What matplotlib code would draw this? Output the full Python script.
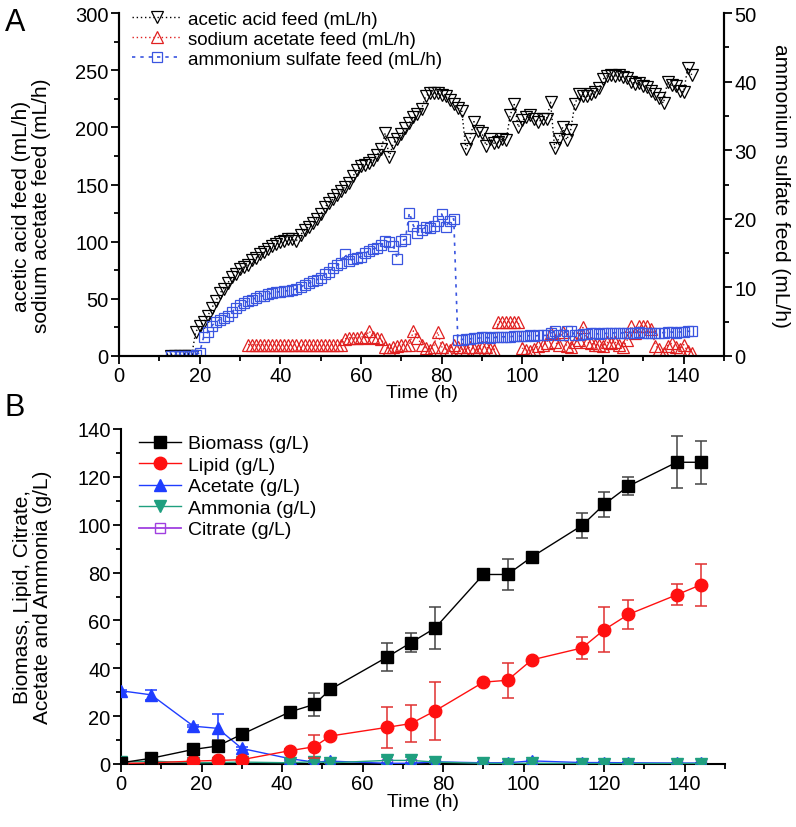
import numpy as np
import matplotlib
matplotlib.use("Agg")
from matplotlib import pyplot as plt
from matplotlib.ticker import MultipleLocator

plt.rcParams['font.family'] = ['Liberation Sans', 'DejaVu Sans']
plt.rcParams['font.size'] = 14

# ---------- panel A : feeds (one reading per hour) ----------
t_acetic = np.arange(13, 143)
acetic = [0, 0, 0, 0, 0, 0,
          21, 26, 30, 35, 42, 48, 55, 59, 64, 69, 72, 76,
          78, 80, 84, 86, 89, 91, 94, 96, 98, 100, 101, 102,
          102, 101, 106, 110, 113, 116, 120, 124, 130, 134, 137, 141,
          144, 148, 151, 157, 163, 166, 167, 169, 171, 176, 181, 195,
          174, 186, 190, 194, 199, 204, 209, 212, 216, 227, 230, 230,
          230, 228, 227, 224, 220, 217, 214, 181, 190, 205, 197, 195,
          184, 190, 186, 187, 190, 189, 211, 220, 200, 206, 209, 211,
          207, 205, 207, 207, 222, 182, 190, 200, 189, 198, 220, 229,
          227, 227, 229, 231, 234, 242, 245, 246, 245, 246, 244, 243,
          240, 238, 239, 236, 235, 232, 229, 226, 221, 240, 237, 236,
          232, 231, 252, 246]

t_sodium = np.arange(32, 143)
sodium = [10, 10, 10, 10, 10, 10, 10, 10, 10, 10, 10, 10,
          10, 10, 10, 10, 10, 10, 10, 10, 10, 10, 10, 10,
          15, 16, 16, 16, 17, 16, 22, 17, 16, 15, 8, 6,
          8, 9, 10, 10, 10, 22, 16, 10, 7, 5, 8, 21,
          8, 6, 5, 10, 8, 6, 5, 8, 6, 5, 8, 8,
          6, 5, 30, 30, 30, 30, 30, 30, 7, 5, 4, 6,
          9, 10, 11, 20, 12, 10, 21, 9, 8, 12, 14, 25,
          12, 11, 10, 10, 9, 12, 11, 12, 10, 8, 14, 26,
          20, 26, 26, 26, 24, 9, 6, 3, 9, 11, 8, 6,
          10, 4, 3]

t_ammsulf = np.arange(13, 143)
ammsulf = [0, 0, 0, 0, 0, 0, 0.2, 0.5, 2.8, 3.5, 4.4, 5.0,
           5.3, 5.6, 5.9, 6.4, 7.0, 7.4, 7.7, 8.0, 8.2, 8.5, 8.7, 8.8,
           9.0, 9.2, 9.3, 9.4, 9.5, 9.5, 9.6, 9.8, 10.0, 10.4, 10.6, 10.9,
           11.1, 11.4, 11.9, 12.3, 12.8, 13.2, 13.6, 14.9, 13.9, 14.1, 14.3, 14.5,
           15.0, 15.3, 15.6, 15.8, 16.2, 16.8, 16.6, 16.1, 14.2, 16.8, 17.0, 20.9,
           19.0, 18.0, 18.3, 18.8, 18.7, 19.0, 19.7, 20.7, 18.8, 19.7, 20.0, 2.4,
           2.4, 2.5, 2.5, 2.6, 2.6, 2.7, 2.7, 2.6, 2.7, 2.7, 2.8, 2.8,
           2.8, 2.9, 2.9, 2.9, 2.9, 3.0, 2.9, 3.0, 3.0, 3.0, 3.3, 3.6,
           3.0, 3.1, 3.6, 3.7, 3.1, 3.1, 3.2, 3.2, 3.3, 3.3, 3.2, 3.3,
           3.3, 3.3, 3.4, 3.3, 3.4, 3.4, 3.4, 3.4, 3.5, 3.4, 3.4, 3.3,
           3.3, 3.4, 3.4, 3.5, 3.5, 3.4, 3.5, 3.5, 3.6, 3.6]

# ---------- panel B : concentrations ----------
t_b = [0, 7.5, 18, 24, 30, 42, 48, 52, 66, 72, 78, 90, 96, 102, 114.5, 120, 126, 138, 144]
biomass = [0.5, 2.4, 6.1, 7.5, 12.4, 21.8, 24.9, 31.2, 44.6, 50.7, 56.8, 79.2, 79.2, 86.5, 99.7, 108.5, 116.1, 126.1, 126.1]
biomass_err = [0.5, 1.5, 0.8, 2.5, 0.8, 0.8, 4.9, 0.8, 5.8, 4.1, 8.8, 0.8, 6.4, 0.8, 5.4, 5.2, 3.8, 10.8, 9.0]
lipid = [0.2, 0.5, 1.2, 1.5, 1.8, 5.6, 7.2, 11.7, 15.3, 16.9, 22.2, 34.2, 35.0, 43.5, 48.5, 56.1, 62.5, 70.7, 74.9]
lipid_err = [0.2, 0.3, 0.5, 0.5, 0.5, 0.5, 4.9, 0.5, 8.7, 7.8, 12.0, 0.5, 7.4, 0.5, 4.6, 9.4, 6.1, 4.4, 8.8]
acetate = [30.6, 28.9, 15.8, 14.9, 6.5, 2.2, 0.8, 1.2, 0.3, 0.3, 0.9, 0.5, 0.5, 1.3, 0.6, 0.6, 0.5, 0.4, 0.4]
acetate_err = [0.5, 2.0, 0.5, 5.8, 0.5, 0.5, 0.3, 0.3, 0.2, 0.2, 0.2, 0.2, 0.2, 0.2, 0.2, 0.2, 0.2, 0.2, 0.2]
ammonia = [0.8, 1.2, 0.5, 0.6, 0.8, 0.5, 1.0, 0.5, 1.5, 1.5, 0.8, 0.3, 0.2, 0.3, 0.2, 0.2, 0.2, 0.2, 0.2]
ammonia_err = [0.3, 0.5, 0.2, 0.3, 0.2, 0.2, 0.3, 0.2, 1.5, 1.5, 0.3, 0.2, 0.1, 0.1, 0.1, 0.1, 0.1, 0.1, 0.1]
citrate = [0.1, 0.1, 0.1, 0.1, 0.1, 0.1, 0.1, 0.1, 0.1, 0.1, 0.1, 0.1, 0.1, 0.1, 0.1, 0.1, 0.1, 0.1, 0.1]

fig = plt.figure(figsize=(7.96, 8.28), dpi=100)

def style_ax(ax):
    ax.tick_params(which='both', direction='out', width=1.3, labelsize=14.5, pad=1.5)
    ax.tick_params(which='major', length=6)
    ax.tick_params(which='minor', length=3.5)
    for s in ax.spines.values():
        s.set_linewidth(1.5)

# ----- A -----
axA = fig.add_axes([119/796, 1-357/828, 605/796, 343/828])
bluec = '#3a55e0'
axA.plot(t_acetic, acetic, ls=(0, (1, 2)), color='black', lw=1, marker='v', ms=9,
         mfc='none', mec='black', mew=0.9, label='acetic acid feed (mL/h)')
axA.plot(t_sodium, sodium, ls=(0, (1, 2)), color='#e02020', lw=1, marker='^', ms=9,
         mfc='none', mec='#e02020', mew=0.9, label='sodium acetate feed (mL/h)')
axA2 = axA.twinx()
axA2.plot(t_ammsulf, ammsulf, ls=(0, (2, 3)), color=bluec, lw=1.2, marker='s', ms=7.5,
          mfc='none', mec=bluec, mew=0.9, label='ammonium sulfate feed (mL/h)')
axA.set_xlim(0, 150)
axA.set_ylim(0, 300)
axA2.set_ylim(0, 50)
axA.xaxis.set_major_locator(MultipleLocator(20))
axA.xaxis.set_minor_locator(MultipleLocator(10))
axA.yaxis.set_major_locator(MultipleLocator(50))
axA.yaxis.set_minor_locator(MultipleLocator(25))
axA2.yaxis.set_major_locator(MultipleLocator(10))
axA2.yaxis.set_minor_locator(MultipleLocator(5))
axA.spines['top'].set_visible(False)
axA2.spines['top'].set_visible(False)
style_ax(axA)
style_ax(axA2)
axA.set_xlabel('Time (h)', fontsize=14, labelpad=-1)
axA.set_ylabel('acetic acid feed (mL/h)\nsodium acetate feed (mL/h)', fontsize=15,
               linespacing=1.1)
axA.yaxis.set_label_coords(-0.112, 0.44)
axA2.set_ylabel('ammonium sulfate feed (mL/h)', fontsize=15, rotation=270, labelpad=24)
h1, l1 = axA.get_legend_handles_labels()
h2, l2 = axA2.get_legend_handles_labels()
axA.legend(h1 + h2, l1 + l2, loc='upper left', bbox_to_anchor=(0.0, 1.045), frameon=False,
           fontsize=13.5, handlelength=2.6, handletextpad=0.4, labelspacing=0.15, borderaxespad=0.3)
fig.text(0.006, 0.972, 'A', fontsize=22, va='center')

# ----- B -----
axB = fig.add_axes([121/796, 1-765/828, 604/796, 335/828])
eb = dict(fmt='none', capsize=4, elinewidth=1.1, capthick=1.1)
axB.errorbar(t_b, biomass, yerr=biomass_err, ecolor='#444444', zorder=5, **eb)
axB.errorbar(t_b, lipid, yerr=lipid_err, ecolor='#e03030', zorder=4, **eb)
axB.errorbar(t_b, acetate, yerr=acetate_err, ecolor='#1f3dff', zorder=3, **eb)
axB.errorbar(t_b, ammonia, yerr=ammonia_err, ecolor='#1f9f7f', zorder=3, **eb)
hb = []
hb += axB.plot(t_b, biomass, color='black', marker='s', ms=8, lw=1, label='Biomass (g/L)', zorder=5)
hb += axB.plot(t_b, lipid, color='#ff1010', marker='o', ms=9, lw=1, label='Lipid (g/L)', zorder=4)
hb += axB.plot(t_b, acetate, color='#1f3dff', marker='^', ms=9, lw=1, label='Acetate (g/L)', zorder=3)
hb += axB.plot(t_b, ammonia, color='#1f9f7f', marker='v', ms=9, lw=1, label='Ammonia (g/L)', zorder=3)
hb += axB.plot(t_b, citrate, color='#a040e0', marker='s', ms=7, mfc='none', mew=1, lw=1.3,
               label='Citrate (g/L)', zorder=2)
axB.set_xlim(0, 150)
axB.set_ylim(0, 140)
axB.xaxis.set_major_locator(MultipleLocator(20))
axB.xaxis.set_minor_locator(MultipleLocator(10))
axB.yaxis.set_major_locator(MultipleLocator(20))
axB.yaxis.set_minor_locator(MultipleLocator(10))
axB.spines['top'].set_visible(False)
axB.spines['right'].set_visible(False)
style_ax(axB)
axB.set_xlabel('Time (h)', fontsize=14, labelpad=0)
axB.set_ylabel('Biomass, Lipid, Citrate,\nAcetate and Ammonia (g/L)', fontsize=15,
               linespacing=1.1)
axB.yaxis.set_label_coords(-0.114, 0.5)
axB.legend(handles=hb, loc='upper left', bbox_to_anchor=(0.0, 1.035), frameon=False, fontsize=14,
           handlelength=2.2, handletextpad=0.35, labelspacing=0.2)
fig.text(0.006, 0.507, 'B', fontsize=22, va='center')

fig.savefig('out.png', dpi=100)
